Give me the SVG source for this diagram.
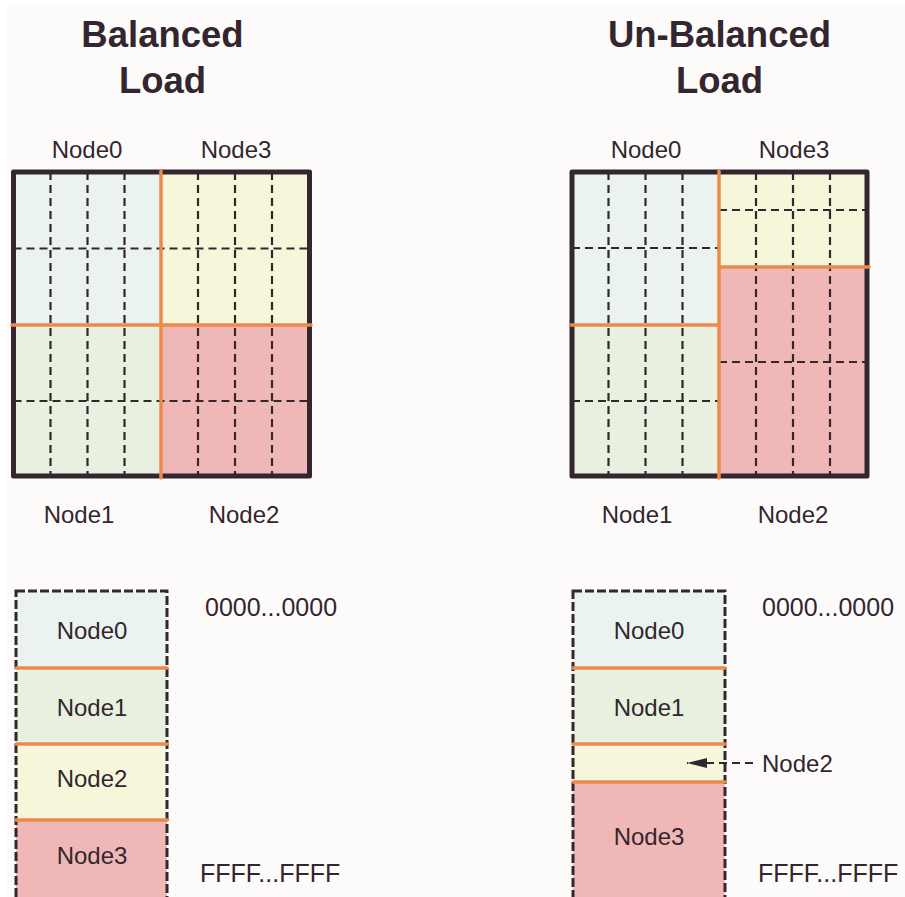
<svg xmlns="http://www.w3.org/2000/svg" width="905" height="897" viewBox="0 0 905 897">
<defs>
<style>
.t{font-family:"Liberation Sans",Arial,sans-serif;font-size:24px;fill:#33262f;text-anchor:middle}
.ts{font-family:"Liberation Sans",Arial,sans-serif;font-size:24px;fill:#33262f}
.addr{font-family:"Liberation Sans",Arial,sans-serif;font-size:25px;fill:#33262f}
.title{font-family:"Liberation Sans",Arial,sans-serif;font-size:36.5px;font-weight:bold;fill:#33262f;text-anchor:middle}
.dash{stroke:#33262f;stroke-width:2.2;stroke-dasharray:8 5;fill:none}
.org{stroke:#ec8a4e;stroke-width:3.5;fill:none;stroke-linecap:round}
.bord{stroke:#33262f;stroke-width:5;fill:none;stroke-linejoin:round}
.cbord{stroke:#33262f;stroke-width:3;stroke-dasharray:9 3;fill:none}
.n0{fill:#eaf3f0}.n1{fill:#e8f0df}.n2{fill:#f0b7b7}.n3{fill:#f5f6da}
.n2y{fill:#f5f6da}.n3p{fill:#f0b7b7}
</style>
<marker id="ah" viewBox="0 0 20 10" refX="20" refY="5" markerWidth="20" markerHeight="10" markerUnits="userSpaceOnUse" orient="auto"><path d="M0,0 L20,5 L0,10 z" fill="#33262f"/></marker>
</defs>
<rect x="0" y="0" width="905" height="897" fill="#ffffff"/>
<rect x="7" y="5" width="898" height="892" fill="#fcfbfa"/>

<g id="title-left"><text class="title" x="162.5" y="47">Balanced</text><text class="title" x="162.5" y="93">Load</text></g>
<g id="title-right"><text class="title" x="719.5" y="47">Un-Balanced</text><text class="title" x="719.5" y="93">Load</text></g>

<!-- Left balanced grid -->
<g id="bal-grid">
<g id="bal-node0"><rect class="n0" x="13.5" y="172" width="147.5" height="153"/><text class="t" x="87" y="158">Node0</text></g>
<g id="bal-node3"><rect class="n3" x="161" y="172" width="148.5" height="153"/><text class="t" x="236" y="158">Node3</text></g>
<g id="bal-node1"><rect class="n1" x="13.5" y="325" width="147.5" height="151"/><text class="t" x="79" y="523">Node1</text></g>
<g id="bal-node2"><rect class="n2" x="161" y="325" width="148.5" height="151"/><text class="t" x="244" y="523">Node2</text></g>
<g id="bal-lines">
<path class="dash" d="M50.5,172V476M87.5,172V476M124.5,172V476M198,172V476M235,172V476M272,172V476M13.5,248.5H309.5M13.5,401H309.5"/>
<rect class="bord" x="13.5" y="172" width="296" height="304"/>
<path class="org" d="M161,171V478M12,325H311"/>
</g>
</g>

<!-- Right unbalanced grid -->
<g id="unb-grid">
<g id="unb-node0"><rect class="n0" x="572" y="172" width="147" height="153"/><text class="t" x="646" y="158">Node0</text></g>
<g id="unb-node3"><rect class="n3" x="719" y="172" width="148" height="95"/><text class="t" x="794" y="158">Node3</text></g>
<g id="unb-node1"><rect class="n1" x="572" y="325" width="147" height="151"/><text class="t" x="637" y="523">Node1</text></g>
<g id="unb-node2"><rect class="n2" x="719" y="267" width="148" height="209"/><text class="t" x="793" y="523">Node2</text></g>
<g id="unb-lines">
<path class="dash" d="M608.5,172V476M645.5,172V476M682.5,172V476M572,248H719M572,401H719M756,172V476M793,172V476M830,172V476M719,210H867M719,362H867"/>
<rect class="bord" x="572" y="172" width="295" height="304"/>
<path class="org" d="M719,171V478M571,325H719M719,267H869"/>
</g>
</g>

<!-- Left address column -->
<g id="bal-col">
<g id="bal-col-node0"><rect class="n0" x="16" y="591" width="151" height="77"/><text class="t" x="92" y="639">Node0</text></g>
<g id="bal-col-node1"><rect class="n1" x="16" y="668" width="151" height="76"/><text class="t" x="92" y="716">Node1</text></g>
<g id="bal-col-node2"><rect class="n2y" x="16" y="744" width="151" height="76"/><text class="t" x="92" y="787">Node2</text></g>
<g id="bal-col-node3"><rect class="n3p" x="16" y="820" width="151" height="90"/><text class="t" x="92" y="864">Node3</text></g>
<rect class="cbord" x="16" y="591" width="151" height="320"/>
<path class="org" d="M16,668H167M16,744H167M16,820H167"/>
<text class="addr" x="205" y="616">0000...0000</text>
<text class="addr" x="200" y="882">FFFF...FFFF</text>
</g>

<!-- Right address column -->
<g id="unb-col">
<g id="unb-col-node0"><rect class="n0" x="573" y="591" width="152" height="77"/><text class="t" x="649" y="639">Node0</text></g>
<g id="unb-col-node1"><rect class="n1" x="573" y="668" width="152" height="76"/><text class="t" x="649" y="716">Node1</text></g>
<g id="unb-col-node2"><rect class="n2y" x="573" y="744" width="152" height="38"/></g>
<g id="unb-col-node3"><rect class="n3p" x="573" y="782" width="152" height="130"/><text class="t" x="649" y="845">Node3</text></g>
<rect class="cbord" x="573" y="591" width="152" height="320"/>
<path class="org" d="M573,668H725M573,744H725M573,782H725"/>
<g id="unb-node2-label"><text class="ts" x="762" y="772">Node2</text></g>
<text class="addr" x="762" y="616">0000...0000</text>
<text class="addr" x="758" y="882">FFFF...FFFF</text>
</g>

<g id="connectors">
<path d="M753,763H687" stroke="#33262f" stroke-width="2.2" stroke-dasharray="8 5" fill="none" marker-end="url(#ah)"/>
</g>
</svg>
